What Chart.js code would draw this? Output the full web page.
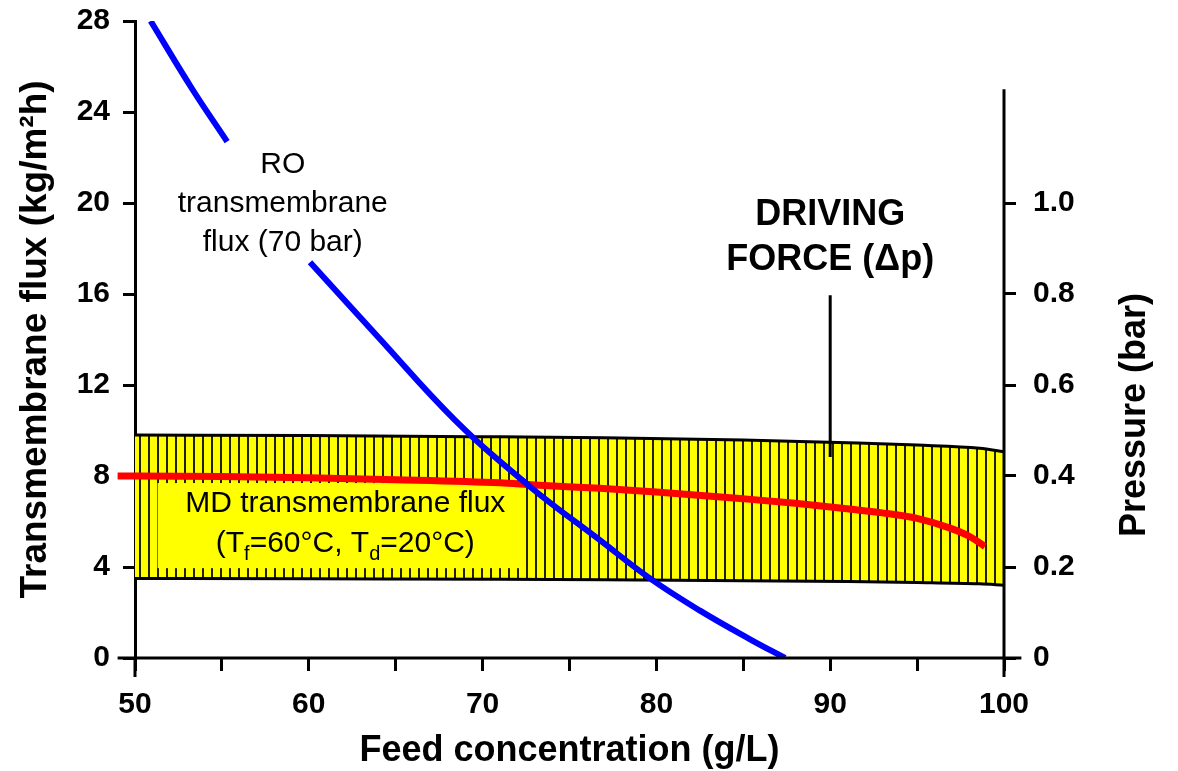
<!DOCTYPE html>
<html>
<head>
<meta charset="utf-8">
<title>RO vs MD transmembrane flux</title>
<script src="https://cdn.jsdelivr.net/npm/chart.js@4.4.1/dist/chart.umd.min.js"></script>
<style>
  html, body { margin: 0; padding: 0; background: #fff; }
  canvas { display: block; }
</style>
</head>
<body>
<canvas id="fluxChart" width="1178" height="771"></canvas>
<script>
// --- data ---
const xTicks = [50, 55, 60, 65, 70, 75, 80, 85, 90, 95, 100];
const pressureTicks = [0, 0.2, 0.4, 0.6, 0.8, 1.0];

// RO flux at 70 bar (kg/m2h), null leaves the gap for the label
const roConc = [50.9, 53.3, 55.3, 57.5, 60.07, 64, 68.41, 72.73, 76.75, 79.63, 82.51, 85.39, 87.4];
const roFlux = [28.0, 25.0, 22.7, null, 17.4, 14.1, 10.46, 7.53, 5.18, 3.5, 2.08, 0.82, 0];

// MD flux (kg/m2h)
const mdConc = [49, 50, 55, 60, 65, 71, 73, 76.75, 80, 85, 88, 91.1, 93, 95, 96.9, 98, 98.9];
const mdFlux = [8.0, 8.0, 7.98, 7.92, 7.84, 7.70, 7.6, 7.46, 7.3, 7.0, 6.8, 6.55, 6.38, 6.14, 5.71, 5.35, 4.9];

// driving force band, pressure (bar)
const dpConc = [50, 60, 71, 77, 85, 91, 95, 98.6, 100];
const dpUpper = [0.490, 0.489, 0.486, 0.484, 0.479, 0.473, 0.468, 0.461, 0.453];
const dpLower = [0.175, 0.174, 0.173, 0.172, 0.170, 0.168, 0.166, 0.163, 0.160];

// leader line of the "DRIVING FORCE" label (bar)
const leaderConc = [90, 90];
const leaderP = [0.797, 0.442];

// where the annotations sit, in data units
const roLabel = { x: 58.5, lines: ['RO', 'transmembrane', 'flux (70 bar)'], y: [21.3, 19.6, 17.9] };
const driveLabel = { x: 90.0, lines: ['DRIVING', 'FORCE (\u0394p)'], y: [19.02, 17.05] };
const mdLabel = { x: 62.1, y: [6.43, 4.67], box: { x0: 51.3, x1: 72.4, y0: 3.95, y1: 7.69 } };
const rightAxisTop = 1.25;

const FONT = '"Liberation Sans", Arial, Helvetica, sans-serif';
Chart.defaults.font.family = FONT;
Chart.defaults.color = '#000';

const pts = (xs, ys) => xs.map((x, i) => ({ x: x, y: ys[i] }));

function hatchPattern() {
    const c = document.createElement('canvas');
    c.width = 9; c.height = 9;
    const g = c.getContext('2d');
    g.fillStyle = '#ffff00';
    g.fillRect(0, 0, 9, 9);
    g.fillStyle = '#222200';
    g.fillRect(4, 0, 2, 9);
    return g.createPattern(c, 'repeat');
}

// draws one line of text with subscripts, centred on cx
function drawSubText(ctx, parts, cx, baseline) {
    const mainFont = '30px ' + FONT;
    const subFont = '20px ' + FONT;
    let total = 0;
    parts.forEach(p => {
        ctx.font = p[1] ? subFont : mainFont;
        total += ctx.measureText(p[0]).width;
    });
    let x = cx - total / 2;
    ctx.textAlign = 'left';
    parts.forEach(p => {
        ctx.font = p[1] ? subFont : mainFont;
        ctx.fillText(p[0], x, baseline + (p[1] ? 8 : 0));
        x += ctx.measureText(p[0]).width;
    });
}

// y axes: fixed width, and no extra room above/below for the end labels
function fixYAxis(width) {
    return axis => {
        axis.width = width;
        axis.paddingTop = 0;
        axis.paddingBottom = 0;
    };
}

const annotations = {
    id: 'annotations',
    afterDatasetDraw(chart, args) {
        if (args.index !== 1) return; // right after the yellow band
        const ctx = chart.ctx;
        const x = chart.scales.x, y = chart.scales.y;
        const b = mdLabel.box;
        ctx.save();
        ctx.fillStyle = '#ffff00';
        ctx.fillRect(x.getPixelForValue(b.x0), y.getPixelForValue(b.y1),
            x.getPixelForValue(b.x1) - x.getPixelForValue(b.x0),
            y.getPixelForValue(b.y0) - y.getPixelForValue(b.y1));
        ctx.fillStyle = '#000';
        ctx.textBaseline = 'alphabetic';
        const cx = x.getPixelForValue(mdLabel.x);
        drawSubText(ctx, [['MD transmembrane flux', false]], cx, y.getPixelForValue(mdLabel.y[0]));
        drawSubText(ctx, [['(T', false], ['f', true], ['=60\u00B0C, T', false], ['d', true], ['=20\u00B0C)', false]],
            cx, y.getPixelForValue(mdLabel.y[1]));
        ctx.restore();
    },
    afterDatasetsDraw(chart) {
        const ctx = chart.ctx;
        const x = chart.scales.x, y = chart.scales.y, yR = chart.scales.yRight;
        const y0 = y.getPixelForValue(0);
        ctx.save();
        // axis lines: x axis runs a bit past both y axes, y axes run a bit below it
        ctx.strokeStyle = '#000';
        ctx.lineWidth = 3;
        ctx.beginPath();
        ctx.moveTo(x.getPixelForValue(49), y0);
        ctx.lineTo(x.getPixelForValue(101), y0);
        ctx.moveTo(x.getPixelForValue(50), y0);
        ctx.lineTo(x.getPixelForValue(50), y0 + 19);
        ctx.moveTo(x.getPixelForValue(100), y0 + 19);
        ctx.lineTo(x.getPixelForValue(100), yR.getPixelForValue(rightAxisTop));
        ctx.stroke();

        ctx.fillStyle = '#000';
        ctx.textAlign = 'center';
        ctx.textBaseline = 'alphabetic';
        ctx.font = '30px ' + FONT;
        roLabel.lines.forEach((t, i) => {
            ctx.fillText(t, x.getPixelForValue(roLabel.x), y.getPixelForValue(roLabel.y[i]));
        });
        ctx.font = 'bold 36px ' + FONT;
        driveLabel.lines.forEach((t, i) => {
            ctx.fillText(t, x.getPixelForValue(driveLabel.x), y.getPixelForValue(driveLabel.y[i]));
        });

        // right axis title reads bottom to top
        ctx.translate(yR.right - 33, yR.getPixelForValue(0.534));
        ctx.rotate(-Math.PI / 2);
        ctx.font = 'bold 36px ' + FONT;
        ctx.fillText('Pressure (bar)', 0, 0);
        ctx.restore();
    }
};

const ctx = document.getElementById('fluxChart').getContext('2d');
new Chart(ctx, {
    type: 'line',
    data: {
        datasets: [
            {
                label: 'dp lower',
                data: pts(dpConc, dpLower),
                yAxisID: 'yRight',
                borderColor: '#000',
                borderWidth: 3,
                fill: false,
                cubicInterpolationMode: 'monotone',
                order: 10
            },
            {
                label: 'Driving force',
                data: pts(dpConc, dpUpper),
                yAxisID: 'yRight',
                borderColor: '#000',
                borderWidth: 3,
                backgroundColor: hatchPattern(),
                fill: '-1',
                cubicInterpolationMode: 'monotone',
                order: 11
            },
            {
                label: 'leader',
                data: pts(leaderConc, leaderP),
                yAxisID: 'yRight',
                borderColor: '#000',
                borderWidth: 3,
                order: 5
            },
            {
                label: 'MD flux',
                data: pts(mdConc, mdFlux),
                yAxisID: 'y',
                borderColor: '#ff0000',
                borderWidth: 7,
                cubicInterpolationMode: 'monotone',
                clip: { left: 20, top: 0, right: 0, bottom: 0 },
                order: 1
            },
            {
                label: 'RO flux',
                data: pts(roConc, roFlux),
                yAxisID: 'y',
                borderColor: '#0000ff',
                borderWidth: 6,
                spanGaps: false,
                tension: 0.4,
                order: 0
            }
        ]
    },
    options: {
        responsive: false,
        animation: false,
        elements: { point: { radius: 0, hoverRadius: 0 } },
        layout: { padding: { top: 21, left: 0, right: 0, bottom: 0 } },
        plugins: { legend: { display: false }, tooltip: { enabled: false } },
        scales: {
            x: {
                type: 'linear',
                min: 50,
                max: 100,
                afterBuildTicks: axis => { axis.ticks = xTicks.map(v => ({ value: v })); },
                afterFit: axis => { axis.height = 113; },
                ticks: {
                    autoSkip: false,
                    maxRotation: 0,
                    padding: 16,
                    font: { size: 30, weight: 'bold' },
                    callback: v => (v % 10 === 0 ? String(v) : '')
                },
                grid: { drawOnChartArea: false, tickLength: 13, color: '#000', lineWidth: 3 },
                border: { display: false },
                title: {
                    display: true,
                    text: 'Feed concentration (g/L)',
                    font: { size: 36, weight: 'bold' },
                    padding: { top: 0, bottom: -2 }
                }
            },
            y: {
                position: 'left',
                min: 0,
                max: 28,
                afterFit: fixYAxis(135),
                ticks: { stepSize: 4, padding: 13, font: { size: 30, weight: 'bold' } },
                grid: { drawOnChartArea: false, tickLength: 12, color: '#000', lineWidth: 3 },
                border: { display: true, color: '#000', width: 3 },
                title: {
                    display: true,
                    text: 'Transmembrane flux (kg/m\u00B2h)',
                    font: { size: 37, weight: 'bold' },
                    padding: { top: 14, bottom: 0 }
                }
            },
            yRight: {
                position: 'right',
                min: 0,
                max: 1.4,
                afterBuildTicks: axis => { axis.ticks = pressureTicks.map(v => ({ value: v })); },
                afterFit: fixYAxis(174),
                ticks: {
                    padding: 17,
                    font: { size: 30, weight: 'bold' },
                    callback: v => (v === 0 ? '0' : v.toFixed(1))
                },
                grid: { drawOnChartArea: false, tickLength: 12, color: '#000', lineWidth: 3 },
                border: { display: false }
            }
        }
    },
    plugins: [annotations]
});
</script>
</body>
</html>
